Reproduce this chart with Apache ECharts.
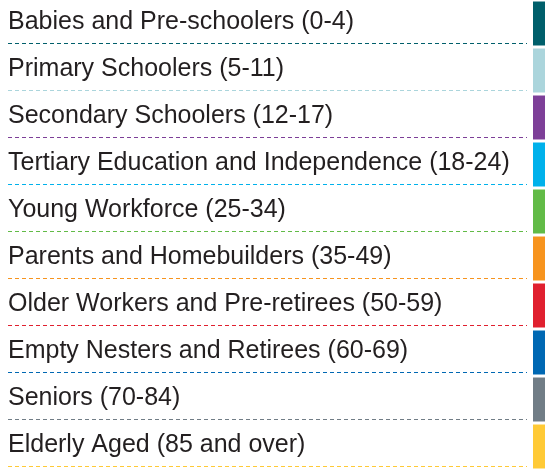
<!DOCTYPE html>
<html>
<head>
<meta charset="utf-8">
<script src="https://cdn.jsdelivr.net/npm/echarts@6/dist/echarts.min.js"></script>
<style>
  html, body { margin: 0; padding: 0; background: #fff; }
  #chart { width: 545px; height: 470px; }
</style>
</head>
<body>
<div id="chart"></div>
<script>
const groups = [
  "Babies and Pre-schoolers (0-4)",
  "Primary Schoolers (5-11)",
  "Secondary Schoolers (12-17)",
  "Tertiary Education and Independence (18-24)",
  "Young Workforce (25-34)",
  "Parents and Homebuilders (35-49)",
  "Older Workers and Pre-retirees (50-59)",
  "Empty Nesters and Retirees (60-69)",
  "Seniors (70-84)",
  "Elderly Aged (85 and over)",
];

const groupColors = [
  "#005f6b", "#abd5dc", "#7d3f98", "#00b1eb", "#62bb47",
  "#f7941e", "#e0202f", "#0068b3", "#717d86", "#ffca36",
];

const renderRow = (params, api) => {
  const idx = api.value(1);
  const cs = params.coordSys;
  const center = api.coord([0, idx]);
  const band = api.size([0, 1])[1];
  const top = center[1] - band / 2;
  const bottom = center[1] + band / 2;
  const color = groupColors[idx];
  const dashY = Math.round(bottom - 4.5) + 0.5;

  return {
    type: "group",
    children: [
      {
        type: "rect",
        shape: { x: cs.x + cs.width - 12, y: top + 1.5, width: 12, height: band - 3 },
        style: { fill: color },
      },
      {
        type: "line",
        shape: { x1: cs.x + 8, y1: dashY, x2: cs.x + cs.width - 18, y2: dashY },
        style: { stroke: color, lineWidth: 1, lineDash: [4, 3] },
      },
      {
        type: "text",
        style: {
          text: groups[idx],
          x: cs.x + 8,
          y: center[1] - 1,
          verticalAlign: "middle",
          align: "left",
          font: '25px "Liberation Sans", Arial, sans-serif',
          fill: "#231f20",
        },
      },
    ],
  };
};

const chart = echarts.init(document.getElementById("chart"));
chart.setOption({
  animation: false,
  grid: { left: 0, right: 0, top: -2.3, bottom: -5.7 },
  xAxis: { type: "value", min: 0, max: 1, show: false },
  yAxis: { type: "category", data: groups, inverse: true, show: false },
  series: [
    {
      type: "custom",
      renderItem: renderRow,
      data: groups.map((g, i) => [0, i]),
      silent: true,
    },
  ],
});
</script>
</body>
</html>
